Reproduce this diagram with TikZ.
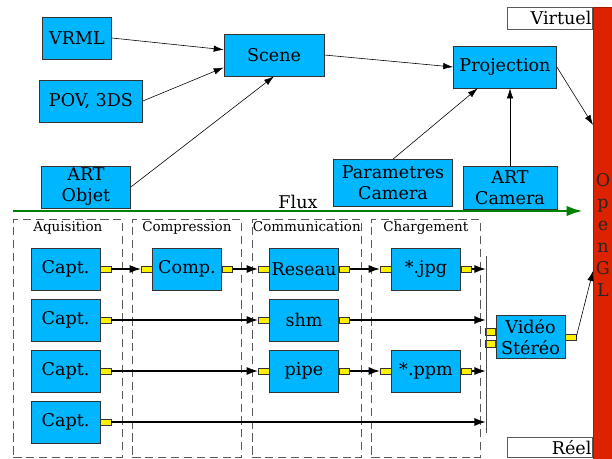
\documentclass[tikz,border=0pt]{standalone}
\usepackage{fontspec}
\setmainfont{DejaVu Serif}
\usetikzlibrary{positioning,calc,arrows.meta}
\definecolor{boxblue}{RGB}{0,183,255}
\definecolor{glred}{RGB}{221,34,0}
\definecolor{fluxgreen}{RGB}{0,128,0}

\begin{document}
\begin{tikzpicture}[x=0.03cm,y=-0.03cm]
 \useasboundingbox (0,0) rectangle (612,459);

\tikzstyle{bloc}=[draw=black!80,fill=boxblue,line width=0.6pt,font=\fontsize{15}{18}\selectfont,align=center,inner xsep=1pt,inner ysep=0pt,minimum width=2.07cm,minimum height=1.26cm]
\tikzstyle{port}=[draw=black!80,fill=yellow,line width=0.5pt,minimum width=0.31cm,minimum height=0.19cm,inner sep=0pt]
\tikzstyle{groupe}=[draw=black!65,dash pattern=on 7pt off 4pt,line width=0.6pt,minimum width=3.27cm,minimum height=7.14cm,anchor=north west]
\tikzstyle{titre}=[font=\fontsize{11.5}{13}\selectfont,inner sep=1pt]
\tikzstyle{lien}=[-{Latex[length=8.5pt,width=5.5pt]},line width=0.5pt]
\tikzstyle{flot}=[-{Latex[length=10pt,width=7pt]},line width=1.5pt]

   % monde virtuel
   \node (vrml) at (77,38) [bloc] {VRML};
   \node (pov) at (91,101) [bloc,minimum width=3.09cm] {POV, 3DS};
   \node (artobj) at (86,187) [bloc,minimum width=2.67cm] {ART\\Objet};
   \node (scene) at (274,55) [bloc,minimum width=3cm] {Scene};
   \node (proj) at (505,67) [bloc,minimum width=3.09cm] {Projection};
   \node (param) at (393,183) [bloc,minimum width=3.57cm,minimum height=1.41cm] {Parametres\\Camera};
   \node (artcam) at (510,188) [bloc,minimum width=2.82cm,minimum height=1.29cm] {ART\\Camera};

   \draw[lien] (vrml.east) -- (scene.174);
   \draw[lien] (pov.east) -- (scene.194);
   \draw[lien] (artobj.east) -- (scene.south);
   \draw[lien] (scene.east) -- (proj.west);
   \draw[lien] (param.north) -- (proj.218);
   \draw[lien] (artcam.north) -- (artcam.north |- proj.south);

   % OpenGL
   \node (opengl) [fill=glred,draw=glred!75!black,line width=0.5pt,minimum width=0.57cm,minimum height=13.7cm,anchor=north west,inner sep=0pt] at (593,7) {};
   \node (gltexte) at (603,235) [font=\fontsize{15}{18.8}\selectfont,align=center,inner sep=0pt,text=black!85] {O\\p\\e\\n\\G\\L};
   \node (virtuel) [draw=black!65,fill=white,line width=0.6pt,anchor=north east,text width=2.5cm,align=right,inner xsep=1pt,minimum height=0.66cm,inner ysep=0pt,font=\fontsize{15}{18}\selectfont] at (opengl.north west) {Virtuel};
   \node (reel) [draw=black!65,fill=white,line width=0.6pt,anchor=north east,text width=2.5cm,align=right,inner xsep=1pt,minimum height=0.6cm,inner ysep=0pt,font=\fontsize{15}{18}\selectfont] at (593,437) {Réel};
   \coordinate (gl-haut) at (593,125);
   \coordinate (gl-bas) at (593,271);
   \draw[lien] (proj.east) -- (gl-haut);

   % flux
   \coordinate (flux-debut) at (13,211);
   \coordinate (flux-fin) at (583,211);
   \draw[fluxgreen,line width=2.5pt,-{Latex[length=14pt,width=9pt]}] (flux-debut) -- (flux-fin) node[midway,above,text=black,font=\fontsize{15}{18}\selectfont,inner sep=1pt] {Flux};

   % monde reel
   \node (acq) [groupe] at (13,219) {};
   \node (cmp) [groupe] at (132,219) {};
   \node (com) [groupe] at (252,219) {};
   \node (chg) [groupe] at (371,219) {};
   \node [titre,below=1pt of acq.north] {Aquisition};
   \node [titre,below=1pt of cmp.north] {Compression};
   \node [titre,below=1pt of com.north] {Communication};
   \node [titre,below=1pt of chg.north] {Chargement};

   \node (capt1) at (65.5,269) [bloc] {Capt.};
   \node (capt2) at (65.5,320) [bloc] {Capt.};
   \node (capt3) at (65.5,371) [bloc] {Capt.};
   \node (capt4) at (65.5,422) [bloc] {Capt.};
   \node (comp) at (187,269) [bloc] {Comp.};
   \node (reseau) at (304,269) [bloc] {Reseau};
   \node (shm) at (304,320) [bloc] {shm};
   \node (pipe) at (304,371) [bloc] {pipe};
   \node (jpg) at (426,269) [bloc] {*.jpg};
   \node (ppm) at (426,371) [bloc] {*.ppm};
   \node (video) at (530.5,337) [bloc,minimum height=1.29cm] {Vidéo\\Stéréo};

   \node (capt1-out) [port,right=0pt of capt1] {};
   \node (capt2-out) [port,right=0pt of capt2] {};
   \node (capt3-out) [port,right=0pt of capt3] {};
   \node (capt4-out) [port,right=0pt of capt4] {};
   \node (comp-in) [port,left=0pt of comp] {};
   \node (comp-out) [port,right=0pt of comp] {};
   \node (reseau-in) [port,left=0pt of reseau] {};
   \node (reseau-out) [port,right=0pt of reseau] {};
   \node (shm-in) [port,left=0pt of shm] {};
   \node (shm-out) [port,right=0pt of shm] {};
   \node (pipe-in) [port,left=0pt of pipe] {};
   \node (pipe-out) [port,right=0pt of pipe] {};
   \node (jpg-in) [port,left=0pt of jpg] {};
   \node (jpg-out) [port,right=0pt of jpg] {};
   \node (ppm-in) [port,left=0pt of ppm] {};
   \node (ppm-out) [port,right=0pt of ppm] {};
   \node (video-in1) [port,anchor=east] at ([yshift=0.16cm]video.west) {};
   \node (video-in2) [port,anchor=east] at ([yshift=-0.2cm]video.west) {};
   \node (video-out) [port,right=0pt of video] {};

   \coordinate (bus-haut) at (486,256);
   \coordinate (bus-bas) at (486,433);
   \draw[black!70,line width=0.6pt] (bus-haut) -- (bus-bas);

   \draw[flot] (capt1-out) -- (comp-in);
   \draw[flot] (comp-out) -- (reseau-in);
   \draw[flot] (reseau-out) -- (jpg-in);
   \draw[flot] (jpg-out) -- (bus-haut |- jpg-out);
   \draw[flot] (capt2-out) -- (shm-in);
   \draw[flot] (shm-out) -- (bus-haut |- shm-out);
   \draw[flot] (capt3-out) -- (pipe-in);
   \draw[flot] (pipe-out) -- (ppm-in);
   \draw[flot] (ppm-out) -- (bus-haut |- ppm-out);
   \draw[flot] (capt4-out) -- (bus-haut |- capt4-out);
   \draw[lien] (video-out.east) -- (gl-bas);

\end{tikzpicture}
\end{document}
